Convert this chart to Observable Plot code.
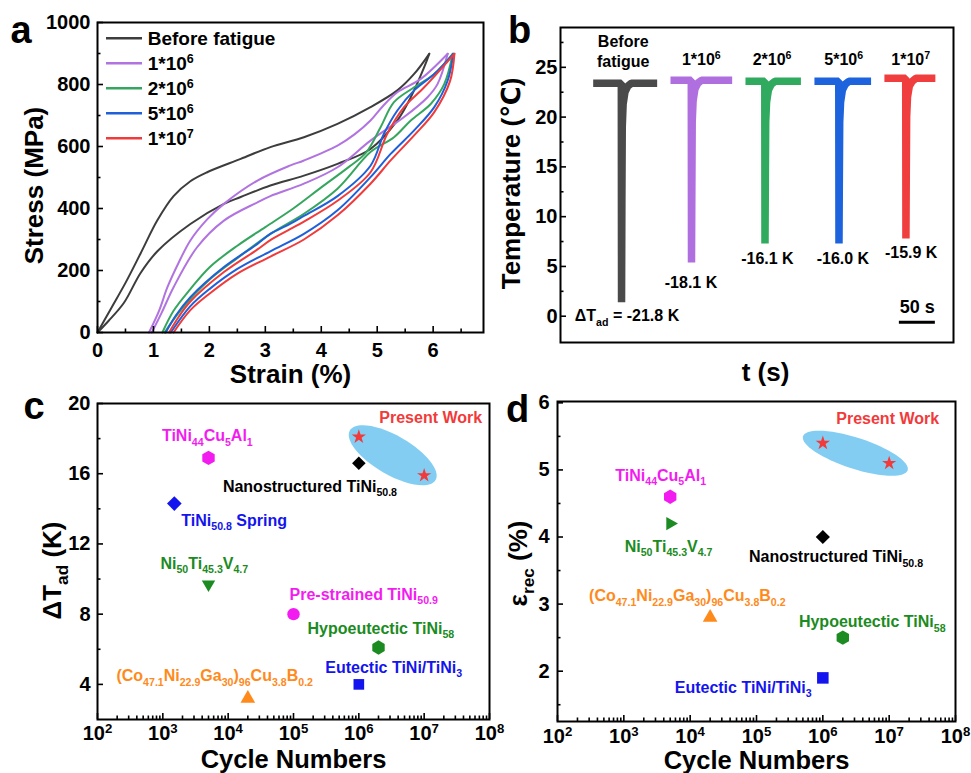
<!DOCTYPE html>
<html>
<head>
<meta charset="utf-8">
<script src="https://cdn.jsdelivr.net/npm/d3@7"></script>
<script src="https://cdn.jsdelivr.net/npm/@observablehq/plot@0.6"></script>
<style>
html, body { margin: 0; padding: 0; background: #fff; }
#root { position: relative; width: 971px; height: 773px; overflow: hidden; background: #fff; }
.panel { position: absolute; }
.panel svg { overflow: visible; display: block; }
</style>
</head>
<body>
<div id="root"></div>
<script>
// ---------------- Panel a: stress-strain loops ----------------
const aSeries = ["Before fatigue", "1*10^{6}", "2*10^{6}", "5*10^{6}", "1*10^{7}"];
const aLoadStrain = [
  [0, 0.25, 0.5, 0.77, 1.07, 1.36, 1.66, 1.96, 2.56, 3.09, 3.69, 4.29, 4.88, 5.36, 5.66, 5.93],
  [0.92, 1.1, 1.25, 1.45, 1.66, 1.96, 2.26, 2.86, 3.45, 3.69, 4.29, 4.6, 4.88, 5.1, 5.36, 5.78, 6.26],
  [1.16, 1.36, 1.66, 2.0, 2.5, 3.0, 3.5, 4.0, 4.5, 4.8, 5.06, 5.3, 5.66, 6.02, 6.35],
  [1.22, 1.4, 1.66, 2.26, 2.86, 3.09, 3.45, 3.69, 4.29, 4.88, 5.12, 5.36, 5.66, 6.02, 6.36],
  [1.28, 1.45, 1.66, 2.26, 2.86, 3.09, 3.45, 3.69, 4.29, 4.88, 5.18, 5.48, 5.84, 6.38]
];
const aLoadStress = [
  [0, 80, 160, 255, 362, 440, 488, 517, 560, 598, 630, 673, 727, 781, 834, 899],
  [0, 70, 146, 225, 297, 365, 415, 490, 539, 555, 603, 640, 684, 730, 775, 818, 899],
  [0, 70, 140, 210, 280, 340, 400, 468, 535, 580, 662, 743, 791, 834, 899],
  [0, 55, 114, 211, 286, 318, 351, 376, 440, 538, 641, 716, 781, 834, 899],
  [0, 50, 100, 195, 268, 298, 334, 358, 425, 517, 641, 727, 791, 899]
];
const aUnloadStrain = [
  [5.93, 5.84, 5.6, 5.36, 4.88, 4.29, 3.69, 3.09, 2.56, 2.26, 1.66, 1.07, 0.77, 0.47, 0.2, 0],
  [6.26, 6.08, 5.9, 5.48, 4.88, 4.29, 3.69, 3.09, 2.86, 2.26, 1.78, 1.36, 1.15, 0.97],
  [6.35, 6.2, 5.96, 5.6, 5.3, 4.88, 4.29, 3.69, 3.09, 2.5, 2.0, 1.5, 1.2],
  [6.36, 6.26, 6.02, 5.66, 5.24, 4.88, 4.29, 3.69, 3.09, 2.5, 2.0, 1.66, 1.31],
  [6.38, 6.3, 6.02, 5.66, 5.24, 4.88, 4.29, 3.69, 3.09, 2.5, 2.0, 1.66, 1.36]
];
const aUnloadStress = [
  [899, 856, 759, 684, 592, 544, 506, 474, 437, 415, 350, 262, 192, 95, 38, 0],
  [899, 802, 759, 695, 619, 533, 480, 440, 420, 361, 275, 146, 65, 0],
  [899, 802, 738, 684, 630, 582, 464, 383, 318, 240, 170, 75, 0],
  [899, 813, 727, 652, 576, 501, 394, 318, 262, 205, 140, 85, 0],
  [899, 810, 711, 636, 555, 480, 378, 300, 245, 190, 125, 72, 0]
];
const aXTicks = [0, 1, 2, 3, 4, 5, 6];
const aXMinor = [0.5, 1.5, 2.5, 3.5, 4.5, 5.5, 6.5];
const aYTicks = [0, 200, 400, 600, 800, 1000];
const aYMinor = [100, 300, 500, 700, 900];

// ---------------- Panel b: temperature traces ----------------
const bSeries = ["Before\nfatigue", "1*10^{6}", "2*10^{6}", "5*10^{6}", "1*10^{7}"];
const bTime = [
  [45.4, 84.5, 84.8, 85.3, 85.8, 87.0, 89.5, 93.5, 98.5, 134.3],
  [152.8, 181.7, 182.0, 182.5, 183.0, 184.2, 186.7, 190.7, 195.7, 238.5],
  [257.0, 283.8, 284.1, 284.6, 285.1, 286.3, 288.8, 292.8, 297.8, 334.0],
  [352.8, 386.6, 386.9, 387.4, 387.9, 389.1, 391.6, 395.6, 400.6, 431.5],
  [450.0, 479.6, 479.9, 480.4, 480.9, 482.1, 484.6, 488.6, 493.6, 520.8]
];
const bTemp = [
  [23.4, 23.4, 1.4, 12.0, 19.0, 21.3, 22.5, 23.1, 23.4, 23.4],
  [23.7, 23.7, 5.4, 13.0, 19.5, 21.6, 22.8, 23.4, 23.7, 23.7],
  [23.6, 23.6, 7.3, 14.0, 19.5, 21.5, 22.7, 23.3, 23.6, 23.6],
  [23.6, 23.6, 7.3, 14.0, 19.5, 21.5, 22.7, 23.3, 23.6, 23.6],
  [23.9, 23.9, 7.8, 14.5, 20.0, 22.0, 23.1, 23.6, 23.9, 23.9]
];
const bSeriesLabelTime = [87.1, 195.6, 294.0, 393.5, 486.6];
const bSeriesLabelTemp = [26.68, 25.86, 25.86, 25.86, 25.86];
const bDropText = ["-18.1 K", "-16.1 K", "-16.0 K", "-15.9 K"];
const bDropTime = [181.3, 287.5, 392.4, 487.2];
const bDropTemp = [3.33, 5.77, 5.77, 6.35];
const bFirstDrop = "ΔT_{ad} = -21.8 K";
const bScaleBarTime = [470.8, 520.8];
const bScaleBarTemp = -0.6;
const bScaleLabel = "50 s";
const bYTicks = [0, 5, 10, 15, 20, 25];
const bYMinor = [2.5, 7.5, 12.5, 17.5, 22.5, 27.5];

// ---------------- Panel c: ΔTad vs cycles ----------------
const cNames = ["TiNi_{44}Cu_{5}Al_{1}", "Nanostructured TiNi_{50.8}", "TiNi_{50.8} Spring", "Ni_{50}Ti_{45.3}V_{4.7}",
  "Pre-strained TiNi_{50.9}", "Hypoeutectic TiNi_{58}", "Eutectic TiNi/TiNi_{3}", "(Co_{47.1}Ni_{22.9}Ga_{30})_{96}Cu_{3.8}B_{0.2}"];
const cCycles = [5e3, 1e6, 1.5e3, 5e3, 1e5, 2e6, 1e6, 2e4];
const cDeltaT = [16.9, 16.6, 14.3, 9.7, 8.0, 6.1, 4.0, 3.2];
const cLabelCycles = [4.8e3, 8.3e3, 1.92e3, 919, 8.7e4, 1.64e5, 3.06e5, 195];
const cLabelDeltaT = [18.13, 15.27, 13.33, 10.87, 9.1, 7.16, 4.96, 4.47];
const presentCycles = [1e6, 1e7];
const presentDeltaT = [18.1, 15.9];
const cHighlightCycles = [3.3e6];
const cHighlightDeltaT = [17.05];
const cPresentLabel = {text: "Present Work", cycles: 1.26e7, value: 19.16};
const cYTicks = [4, 8, 12, 16, 20];
const cYMinor = [6, 10, 14, 18];

// ---------------- Panel d: recoverable strain vs cycles ----------------
const dNames = ["TiNi_{44}Cu_{5}Al_{1}", "Ni_{50}Ti_{45.3}V_{4.7}", "Nanostructured TiNi_{50.8}",
  "(Co_{47.1}Ni_{22.9}Ga_{30})_{96}Cu_{3.8}B_{0.2}", "Hypoeutectic TiNi_{58}", "Eutectic TiNi/TiNi_{3}"];
const dCycles = [5e3, 5e3, 1e6, 2e4, 2e6, 1e6];
const dStrain = [4.6, 4.2, 4.0, 2.8, 2.5, 1.9];
const dLabelCycles = [3.6e3, 1.03e3, 7.7e4, 299, 4.36e5, 5.85e3];
const dLabelStrain = [4.915, 3.855, 3.70, 3.116, 2.728, 1.758];
const presentStrain = [5.4, 5.1];
const dHighlightCycles = [3.09e6];
const dHighlightStrain = [5.25];
const dPresentLabel = {text: "Present Work", cycles: 9.5e6, value: 5.766};
const dYTicks = [2, 3, 4, 5, 6];
const dYMinor = [1.5, 2.5, 3.5, 4.5, 5.5];

const logMajor = [1e2, 1e3, 1e4, 1e5, 1e6, 1e7, 1e8];

// ---------------- styles ----------------
const FONT = '"Liberation Sans", Arial, "DejaVu Sans", sans-serif';
const aColors = ["#3d3d3d", "#b173e0", "#36a65e", "#1f60d8", "#ef3b3b"];
const bColors = ["#4a4a4a", "#b06fde", "#2faa5f", "#1c63dd", "#f03e3e"];
const MAG = "#f31cf0", GRN = "#1b8b22", BLU = "#1414ee", ORG = "#ff8a1c", RED = "#f23a3a", BLK = "#000";
const cStyle = [
  {sym: "hexagon", fill: MAG, r: 6.2, rot: 0, anchor: "middle"},
  {sym: "diamond2", fill: BLK, r: 6.1, rot: 0, anchor: "start"},
  {sym: "diamond2", fill: BLU, r: 6.6, rot: 0, anchor: "start"},
  {sym: "triangle2", fill: GRN, r: 6.4, rot: 180, anchor: "start"},
  {sym: "circle", fill: MAG, r: 6.2, rot: 0, anchor: "start"},
  {sym: "hexagon", fill: GRN, r: 6.2, rot: 0, anchor: "start"},
  {sym: "square", fill: BLU, r: 6.0, rot: 0, anchor: "start"},
  {sym: "triangle2", fill: ORG, r: 7.0, rot: 0, anchor: "start"}
];
const cTextColor = [MAG, BLK, BLU, GRN, MAG, GRN, BLU, ORG];
const dStyle = [
  {sym: "hexagon", fill: MAG, r: 6.2, rot: 0, anchor: "middle"},
  {sym: "triangle2", fill: GRN, r: 6.4, rot: 90, anchor: "start"},
  {sym: "diamond2", fill: BLK, r: 6.4, rot: 0, anchor: "start"},
  {sym: "triangle2", fill: ORG, r: 7.0, rot: 0, anchor: "start"},
  {sym: "hexagon", fill: GRN, r: 6.2, rot: 0, anchor: "start"},
  {sym: "square", fill: BLU, r: 6.5, rot: 0, anchor: "start"}
];
const dTextColor = [MAG, GRN, BLK, ORG, GRN, BLU];

function baseStyle(size) {
  return {fontFamily: FONT, fontSize: size + "px", fontWeight: "bold", color: "black", background: "transparent", overflow: "visible"};
}
const root = document.getElementById("root");
function place(el, left, top) {
  const d = document.createElement("div");
  d.className = "panel";
  d.style.left = left + "px";
  d.style.top = top + "px";
  d.appendChild(el);
  root.appendChild(d);
}
function minorLog() {
  const out = [];
  for (let k = 2; k < 8; k++) for (let m = 2; m <= 9; m++) out.push(m * Math.pow(10, k));
  return out;
}
function ellipseSymbol(rx, ry) {
  const k = 0.5522847498;
  return {draw(ctx) {
    ctx.moveTo(rx, 0);
    ctx.bezierCurveTo(rx, k * ry, k * rx, ry, 0, ry);
    ctx.bezierCurveTo(-k * rx, ry, -rx, k * ry, -rx, 0);
    ctx.bezierCurveTo(-rx, -k * ry, -k * rx, -ry, 0, -ry);
    ctx.bezierCurveTo(k * rx, -ry, rx, -k * ry, rx, 0);
    ctx.closePath();
  }};
}
const blank = () => "";
// frame + tick labels + inward ticks (rules inset so only a short stub remains inside the frame)
function frameAxes(o) {
  const m = [];
  const tw = 1.6;
  if (o.xMajor) {
    m.push(Plot.ruleX(o.xMajor, {x: d => d, insetTop: o.fh - 6, strokeWidth: tw}));
    m.push(Plot.axisX(o.xMajor, {tickSize: 0, tickPadding: o.xOff, tickFormat: o.xFmt, label: null}));
  }
  if (o.xMinor) m.push(Plot.ruleX(o.xMinor, {x: d => d, insetTop: o.fh - 3.5, strokeWidth: tw}));
  m.push(Plot.ruleY(o.yMajor, {y: d => d, insetRight: o.fw - 6, strokeWidth: tw}));
  if (o.yMinor) m.push(Plot.ruleY(o.yMinor, {y: d => d, insetRight: o.fw - 3.5, strokeWidth: tw}));
  m.push(Plot.axisY(o.yMajor, {tickSize: 0, tickPadding: o.yOff, tickFormat: d => String(d), label: null}));
  m.push(Plot.frame({stroke: "black", strokeWidth: 2}));
  return m;
}
const ident = d => d;
function yTitle(text, dx, dy) {
  return Plot.text([text], {text: ident, frameAnchor: "left", dx, dy, rotate: -90, textAnchor: "middle", lineAnchor: "middle", fontSize: 26, fontWeight: "bold"});
}
function xTitle(text, dx, dy, size = 26) {
  return Plot.text([text], {text: ident, frameAnchor: "bottom", dx, dy, textAnchor: "middle", lineAnchor: "middle", fontSize: size, fontWeight: "bold"});
}

// ---------------- Panel a ----------------
{
  const W = 490, H = 390, ML = 97, MR = 7, MT = 22, MB = 58;
  const lineMarks = [];
  aSeries.forEach((s, i) => {
    const load = aLoadStrain[i].map((x, j) => ({strain: x, stress: aLoadStress[i][j]}));
    const unload = aUnloadStrain[i].map((x, j) => ({strain: x, stress: aUnloadStress[i][j]}));
    for (const br of [load, unload]) {
      lineMarks.push(Plot.line(br, {x: "strain", y: "stress", stroke: aColors[i], strokeWidth: 2, curve: "catmull-rom"}));
    }
  });
  const p = Plot.plot({
    width: W, height: H, marginLeft: ML, marginRight: MR, marginTop: MT, marginBottom: MB,
    style: baseStyle(20),
    x: {domain: [0, 6.9], label: null},
    y: {domain: [0, 1000], label: null},
    marks: [
      ...lineMarks,
      ...frameAxes({fw: W - ML - MR, fh: H - MT - MB, xMajor: aXTicks, xMinor: aXMinor, xFmt: d => String(d), xOff: 10,
                    yMajor: aYTicks, yMinor: aYMinor, yOff: 7}),
      xTitle("Strain (%)", 0, 42.5),
      yTitle("Stress (MPa)", -63, 8)
    ]
  });
  place(p, 0, 0);
}

// ---------------- Panel b ----------------
{
  const W = 481, H = 390, ML = 70, MR = 18, MT = 27, MB = 48;
  const marks = [];
  bSeries.forEach((s, i) => {
    const rows = bTime[i].map((t, j) => ({t, T: bTemp[i][j]}));
    marks.push(Plot.line(rows, {x: "t", y: "T", stroke: bColors[i], strokeWidth: 7.5, strokeLinecap: "butt", strokeLinejoin: "miter", strokeMiterlimit: 1, curve: "linear"}));
  });
  const seriesLabels = bSeries.map((s, i) => ({s, t: bSeriesLabelTime[i], T: bSeriesLabelTemp[i]}));
  const dropLabels = bDropText.map((s, i) => ({s, t: bDropTime[i], T: bDropTemp[i]}));
  const p = Plot.plot({
    width: W, height: H, marginLeft: ML, marginRight: MR, marginTop: MT, marginBottom: MB,
    style: baseStyle(20),
    x: {domain: [0, 546], axis: null, label: null},
    y: {domain: [-2.64, 29], label: null},
    marks: [
      ...marks,
      ...frameAxes({fw: W - ML - MR, fh: H - MT - MB, yMajor: bYTicks, yMinor: bYMinor, yOff: 3}),
      Plot.text(seriesLabels, {x: "t", y: "T", text: "s", lineAnchor: "middle", lineHeight: 1.25, fontSize: 16, fontWeight: "bold"}),
      Plot.text(dropLabels, {x: "t", y: "T", text: "s", lineAnchor: "middle", fontSize: 16, fontWeight: "bold"}),
      Plot.text([{s: bFirstDrop, t: 19.9, T: 0}], {x: "t", y: "T", text: "s", textAnchor: "start", lineAnchor: "middle", fontSize: 16, fontWeight: "bold"}),
      Plot.ruleY([bScaleBarTemp], {x1: bScaleBarTime[0], x2: bScaleBarTime[1], strokeWidth: 3, stroke: "black"}),
      Plot.text([{s: bScaleLabel, t: (bScaleBarTime[0] + bScaleBarTime[1]) / 2, T: 0.9}], {x: "t", y: "T", text: "s", lineAnchor: "middle", fontSize: 18, fontWeight: "bold"}),
      xTitle("t (s)", 8.5, 30),
      yTitle("Temperature (\u2103)", -49, -1.5)
    ]
  });
  place(p, 490, 0);
}

// ---------------- scatter panels ----------------
function scatterPanel(cfg) {
  const marks = [];
  marks.push(Plot.dot([{x: cfg.hx[0], y: cfg.hy[0]}], {x: "x", y: "y", symbol: ellipseSymbol(cfg.ea, cfg.eb), rotate: cfg.erot, fill: "#83cdf3", stroke: "none"}));
  cfg.x.forEach((xv, i) => {
    const st = cfg.style[i];
    marks.push(Plot.dot([{x: xv, y: cfg.y[i]}], {x: "x", y: "y", symbol: st.sym, r: st.r, rotate: st.rot, fill: st.fill, stroke: "none"}));
  });
  marks.push(Plot.dot(presentCycles.map((x, i) => ({x, y: cfg.py[i]})), {x: "x", y: "y", symbol: "star", r: 4.5, fill: RED, stroke: "none"}));
  cfg.names.forEach((s, i) => {
    marks.push(Plot.text([{s, x: cfg.lx[i], y: cfg.ly[i]}], {x: "x", y: "y", text: "s", fill: cfg.tc[i], textAnchor: cfg.style[i].anchor, lineAnchor: "middle", fontSize: 16, fontWeight: "bold"}));
  });
  marks.push(Plot.text([cfg.pl], {x: "cycles", y: "value", text: "text", fill: RED, lineAnchor: "middle", fontSize: 16, fontWeight: "bold"}));
  marks.push(...frameAxes({fw: cfg.w - cfg.ml - cfg.mr, fh: cfg.h - cfg.mt - cfg.mb,
    xMajor: logMajor, xMinor: minorLog(), xFmt: d => `10^{${Math.round(Math.log10(d))}}`, xOff: cfg.xOff,
    yMajor: cfg.yMajor, yMinor: cfg.yMinor, yOff: cfg.yOff}));
  marks.push(xTitle("Cycle Numbers", 0, cfg.xtdy, 25.5));
  marks.push(yTitle(cfg.ytitle, cfg.ytdx, cfg.ytdy));
  return Plot.plot({
    width: cfg.w, height: cfg.h, marginLeft: cfg.ml, marginRight: cfg.mr, marginTop: cfg.mt, marginBottom: cfg.mb,
    style: baseStyle(20),
    x: {type: "log", domain: [1e2, 1e8], label: null},
    y: {domain: cfg.ydom, label: null},
    marks
  });
}

place(scatterPanel({
  w: 490, h: 393, ml: 97, mr: 1, mt: 23, mb: 54, ydom: [2, 20],
  hx: cHighlightCycles, hy: cHighlightDeltaT, ea: 49.5, eb: 19.5, erot: 30,
  x: cCycles, y: cDeltaT, style: cStyle, py: presentDeltaT,
  names: cNames, lx: cLabelCycles, ly: cLabelDeltaT, tc: cTextColor, pl: cPresentLabel,
  yMajor: cYTicks, yMinor: cYMinor, xOff: 6.5, yOff: 7,
  xtdy: 40, ytitle: "ΔT_{ad} (K)", ytdx: -45.3, ytdy: 9
}), 0, 380);

place(scatterPanel({
  w: 481, h: 393, ml: 67, mr: 16, mt: 21, mb: 52, ydom: [1.25, 6.02],
  hx: dHighlightCycles, hy: dHighlightStrain, ea: 55, eb: 15.5, erot: 18,
  x: dCycles, y: dStrain, style: dStyle, py: presentStrain,
  names: dNames, lx: dLabelCycles, ly: dLabelStrain, tc: dTextColor, pl: dPresentLabel,
  yMajor: dYTicks, yMinor: dYMinor, xOff: 7.5, yOff: 8,
  xtdy: 39, ytitle: "ε_{rec} (%)", ytdx: -38.7, ytdy: 2
}), 490, 380);

// ---------------- overlay: panel letters and legend of panel a ----------------
{
  const svg = d3.create("svg").attr("width", 971).attr("height", 773)
    .style("position", "absolute").style("left", "0px").style("top", "0px")
    .style("pointer-events", "none").style("overflow", "visible")
    .style("font-family", FONT).style("font-weight", "bold");
  const letters = [["a", 10.5, 43], ["b", 508, 43], ["c", 23.5, 419], ["d", 506, 422]];
  svg.selectAll("text.letter").data(letters).join("text").attr("class", "letter")
    .attr("x", d => d[1]).attr("y", d => d[2]).attr("font-size", 38).text(d => d[0]);
  const lg = svg.append("g");
  aSeries.forEach((s, i) => {
    const y = 38.3 + i * 25;
    lg.append("line").attr("x1", 106).attr("x2", 142).attr("y1", y).attr("y2", y).attr("stroke", aColors[i]).attr("stroke-width", 2.5);
    lg.append("text").attr("x", 147.7).attr("y", y + 6.8).attr("font-size", 19).text(s);
  });
  root.appendChild(svg.node());
}

// ---------------- rich text: sub/superscripts ----------------
function richify(scope) {
  const NS = "http://www.w3.org/2000/svg";
  scope.querySelectorAll("text").forEach(el => {
    if (el.querySelector("tspan")) return;
    const s = el.textContent;
    if (!/[_^]\{/.test(s)) return;
    const base = parseFloat(getComputedStyle(el).fontSize) || 16;
    const re = /([_^])\{([^}]*)\}/g;
    const parts = [];
    let last = 0, m;
    while ((m = re.exec(s))) {
      if (m.index > last) parts.push([null, s.slice(last, m.index)]);
      parts.push([m[1], m[2]]);
      last = re.lastIndex;
    }
    if (last < s.length) parts.push([null, s.slice(last)]);
    el.textContent = "";
    let shift = 0;
    for (const [kind, txt] of parts) {
      const ts = document.createElementNS(NS, "tspan");
      const target = kind === "_" ? base * 0.27 : kind === "^" ? -base * 0.38 : 0;
      if (target !== shift) ts.setAttribute("dy", (target - shift).toFixed(2));
      shift = target;
      if (kind) ts.setAttribute("font-size", (base * 0.66).toFixed(1));
      ts.textContent = txt;
      el.appendChild(ts);
    }
  });
}
richify(root);
</script>
</body>
</html>
